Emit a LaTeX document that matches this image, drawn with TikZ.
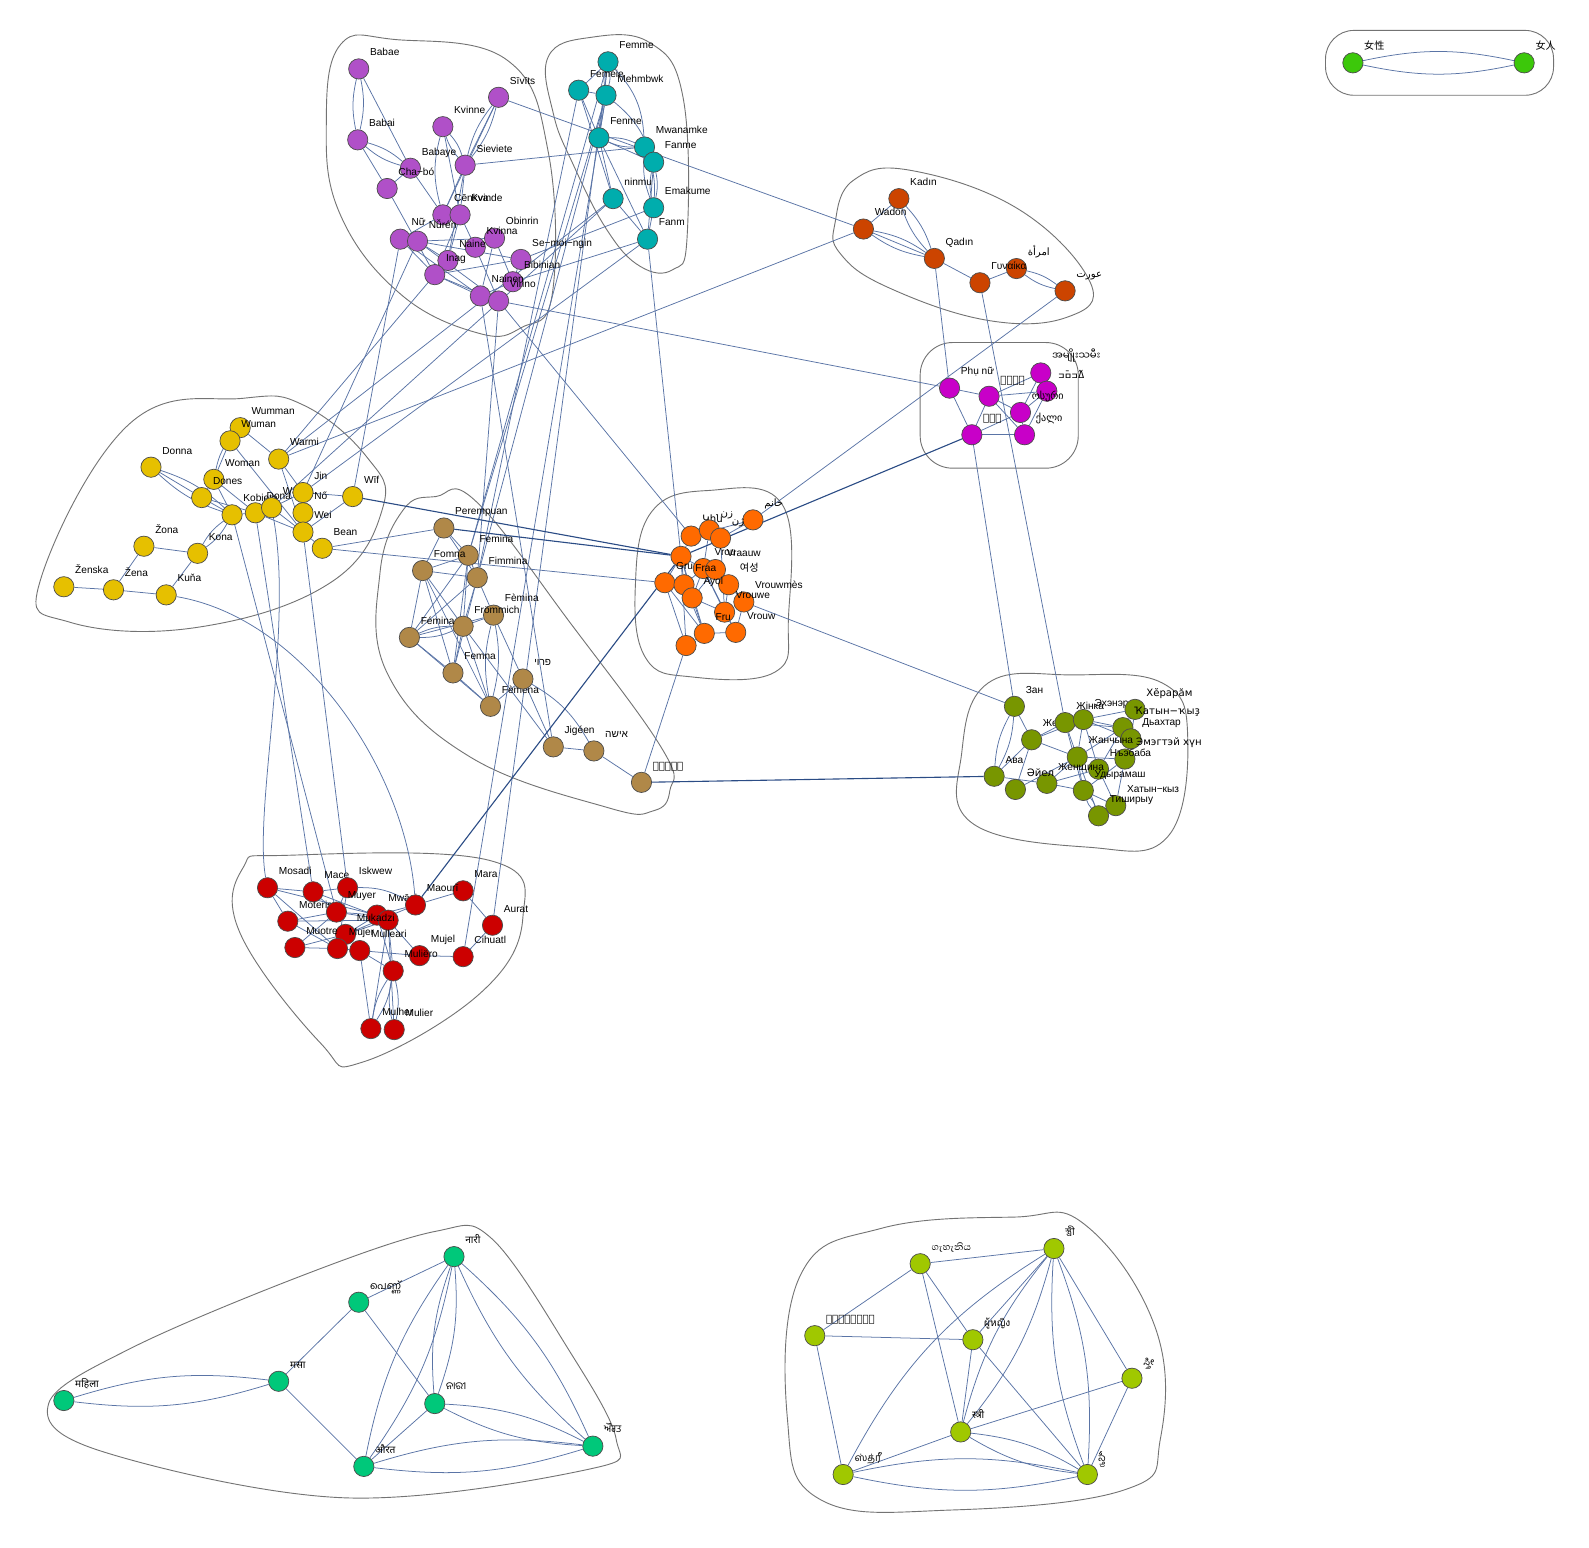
\documentclass[tikz,border=0pt]{standalone}
\usepackage{fontspec}
\setmainfont{Liberation Sans}
\newfontfamily\cjkfont{Noto Sans CJK SC}
\newfontfamily\krfont{Noto Sans CJK KR}
\newfontfamily\arabicfont[Script=Arabic]{DejaVu Sans}
\newfontfamily\hebfont[Script=Hebrew]{Liberation Sans}
\newfontfamily\djfont{DejaVu Sans}
\newfontfamily\dvfont[Script=Devanagari]{Noto Sans}
\newfontfamily\mlfont[Script=Malayalam]{Hind Kochi}
\newfontfamily\orfont[Script=Oriya]{Noto Sans Oriya UI}
\newfontfamily\pafont[Script=Gurmukhi]{Hind Jalandhar}
\newfontfamily\bnfont[Script=Bengali]{Hind Siliguri}
\newfontfamily\sifont[Script=Sinhala,Scale=1.2]{Abhaya Libre}
\newfontfamily\thfont[Script=Thai]{Loma}
\newfontfamily\knfont[Script=Kannada]{Hind Mysuru}
\newfontfamily\tafont[Script=Tamil]{Hind Madurai}
\newfontfamily\tefont[Script=Telugu]{Hind Guntur}
\newfontfamily\myfont[Script=Myanmar]{Noto Sans Myanmar UI}
\TeXXeTstate=1
\usepackage{tikz}
\usetikzlibrary{positioning}
\pgfdeclarelayer{bg}
\pgfsetlayers{bg,main}

\definecolor{linkC}{HTML}{5A74A6}
\definecolor{darklinkC}{HTML}{2B4C85}
\definecolor{puC}{HTML}{B050C8}
\definecolor{teC}{HTML}{00ADAD}
\definecolor{kaC}{HTML}{CC4400}
\definecolor{maC}{HTML}{C800C8}
\definecolor{yeC}{HTML}{E6C000}
\definecolor{taC}{HTML}{B08848}
\definecolor{orC}{HTML}{FF6A00}
\definecolor{olC}{HTML}{789600}
\definecolor{reC}{HTML}{CC0000}
\definecolor{grC}{HTML}{00C87A}
\definecolor{liC}{HTML}{A0C800}
\definecolor{cjC}{HTML}{3CC80A}

\begin{document}
\begin{tikzpicture}[x=1pt, y=-1pt,
    wn/.style={circle, draw=black!70, line width=0.7pt, fill=#1, minimum size=20pt, inner sep=0pt},
    lbl/.style={font=\fontsize{10}{11}\selectfont, anchor=base west, inner sep=0pt},
    nl/.style={append after command={(\tikzlastnode.center) ++(11pt,13pt) node[lbl] {#1}}},
    link/.style={draw=linkC, line width=0.75pt},
    dlink/.style={draw=darklinkC, line width=1.1pt},
    hull/.style={draw=black!55, line width=0.9pt},
    pu/.style={wn=puC}, te/.style={wn=teC}, ka/.style={wn=kaC}, ma/.style={wn=maC},
    ye/.style={wn=yeC}, ta/.style={wn=taC}, or/.style={wn=orC}, ol/.style={wn=olC},
    re/.style={wn=reC}, gr/.style={wn=grC}, li/.style={wn=liC}, cj/.style={wn=cjC}
]
\useasboundingbox (0,0) rectangle (1568,1527);

% Purple group
\node[pu, nl=Babae] (pBabae) at (354,68) {};
\node[pu, nl=Babai] (pBabai) at (353,138) {};
\node[pu, nl=Sīvīts] (pSivits) at (492,96) {};
\node[pu, nl=Kvinne] (pKvinne) at (437,125) {};
\node[pu, nl=Babaye] (pBabaye) at (405,166) {};
\node[pu, nl=Sieviete] (pSieviete) at (459,163) {};
\node[pu, nl=Cha−bó] (pChabo) at (382,186) {};
\node[pu, nl=Cēnkva] (pCenkva) at (437,212) {};
\node[pu, nl=Kvinde] (pKvinde) at (454,212) {};
\node[pu, nl=Nữ] (pNu) at (395,236) {};
\node[pu, nl=Nǚrén] (pNuren) at (412,238) {};
\node[pu, nl=Obinrin] (pObinrin) at (488,235) {};
\node[pu, nl=Kvinna] (pKvinna) at (469,244) {};
\node[pu, nl=Se−moi−ngin] (pSemoi) at (514,256) {};
\node[pu, nl=Naine] (pNaine) at (442,257) {};
\node[pu, nl=Inag] (pInag) at (429,271) {};
\node[pu, nl=Bibinian] (pBibin) at (506,278) {};
\node[pu, nl=Nainen] (pNainen) at (474,292) {};
\node[pu, nl=Virino] (pVirino) at (492,297) {};

% Teal group
\node[te, nl=Femme] (tFemme) at (600,61) {};
\node[te, nl=Femeie] (tFemeie) at (571,89) {};
\node[te, nl=Mehmbwk] (tMehm) at (598,94) {};
\node[te, nl=Fenme] (tFenme) at (591,136) {};
\node[te, nl=Mwanamke] (tMwan) at (636,145) {};
\node[te, nl=Fanme] (tFanme) at (645,160) {};
\node[te, nl=ninmu] (tNinmu) at (605,196) {};
\node[te, nl=Emakume] (tEmak) at (645,205) {};
\node[te, nl=Fanm] (tFanm) at (639,236) {};

% Kadin group
\node[ka, nl=Kadın] (kKadin) at (887,196) {};
\node[ka, nl=Wadon] (kWadon) at (852,226) {};
\node[ka, nl=Qadın] (kQadin) at (922,255) {};
\node[ka, nl={\arabicfont\beginR امرأة\endR}] (kImr) at (1003,265) {};
\node[ka, nl=Γυναίκα] (kGyn) at (967,279) {};
\node[ka, nl={\arabicfont\beginR عورت\endR}] (kAurat) at (1051,287) {};

% Magenta group
\node[ma, nl=Phụ nữ] (mPhu) at (937,383) {};
\node[ma, nl={\myfont အမျိုးသမီး}] (mMyan) at (1027,368) {};
\node[ma, nl={\djfont\beginR ߡߏ߬ߛߏ߫\endR}] (mNko) at (1033,386) {};
\node[ma, nl={\djfont ᎠᏂᎨᏯ}] (mCher) at (976,391) {};
\node[ma, nl={\djfont ოსური}] (mOsuri) at (1007,407) {};
\node[ma, nl={\djfont ሴቶች}] (mSetoch) at (959,429) {};
\node[ma, nl={\djfont ქალი}] (mKali) at (1011,429) {};

% Yellow group
\node[ye, nl=Wumman] (yWumman) at (237,422) {};
\node[ye, nl=Wuman] (yWuman) at (227,435) {};
\node[ye, nl=Donna] (yDonna) at (149,461) {};
\node[ye, nl=Warmi] (yWarmi) at (275,453) {};
\node[ye, nl=Woman] (yWoman) at (211,473) {};
\node[ye, nl=Dones] (yDones) at (199,491) {};
\node[ye, nl=Kobieta] (yKobieta) at (229,508) {};
\node[ye, nl=Dona] (yDona) at (252,506) {};
\node[ye, nl=Wanita] (yWanita) at (268,501) {};
\node[ye, nl=Jin] (yJin) at (299,486) {};
\node[ye, nl=Nő] (yNo) at (299,506) {};
\node[ye, nl=Wei] (yWei) at (299,525) {};
\node[ye, nl=Bean] (yBean) at (318,541) {};
\node[ye, nl=Wīf] (yWif) at (348,490) {};
\node[ye, nl=Žona] (yZona) at (142,539) {};
\node[ye, nl=Kona] (yKona) at (195,546) {};
\node[ye, nl=Ženska] (yZenska) at (63,579) {};
\node[ye, nl=Žena] (yZena) at (112,582) {};
\node[ye, nl=Kuňa] (yKuna) at (164,587) {};

% Tan group
\node[ta, nl=Perempuan] (nPeremp) at (438,521) {};
\node[ta, nl=Femina] (nFemina) at (462,548) {};
\node[ta, nl=Fomna] (nFomna) at (417,563) {};
\node[ta, nl=Fimmina] (nFimmina) at (471,570) {};
\node[ta, nl=Fèmina] (nFemina2) at (487,607) {};
\node[ta, nl=Frömmich] (nFromm) at (457,618) {};
\node[ta, nl=Fémina] (nFemina3) at (404,629) {};
\node[ta, nl=Femna] (nFemna) at (447,664) {};
\node[ta, nl=Fèmena] (nFemena) at (484,697) {};
\node[ta, nl={\hebfont\beginR פרוי\endR}] (nFroy) at (516,670) {};
\node[ta, nl=Jigéen] (nJigeen) at (546,737) {};
\node[ta, nl={\hebfont\beginR אישה\endR}] (nIsha) at (586,741) {};
\node[ta, nl={\djfont\beginR ܐܢܬܬܐ\endR}] (nAtta) at (633,772) {};

% Orange group
\node[or, nl={\arabicfont\beginR خانم\endR}] (oKhanum) at (743,513) {};
\node[or, nl={\djfont Կին}] (oKin) at (682,529) {};
\node[or, nl={\arabicfont\beginR زن\endR}] (oZan) at (700,523) {};
\node[or, nl={\arabicfont\beginR ژن\endR}] (oZhan) at (711,531) {};
\node[or] (oX1) at (672,549) {};
\node[or, nl=Grua] (oGrua) at (656,575) {};
\node[or, nl=Vrou] (oVrou) at (694,561) {};
\node[or, nl=Vraauw] (oVraauw) at (706,562) {};
\node[or, nl=Fraa] (oFraa) at (675,577) {};
\node[or, nl={\krfont 여성}] (oYeo) at (719,577) {};
\node[or, nl=Ayol] (oAyol) at (683,590) {};
\node[or, nl=Vrouwmès] (oVrouwmes) at (734,594) {};
\node[or, nl=Vrouwe] (oVrouwe) at (715,604) {};
\node[or, nl=Vrouw] (oVrouw) at (726,624) {};
\node[or, nl=Fru] (oFru) at (695,625) {};
\node[or] (oX2) at (677,637) {};

% Olive group
\node[ol, nl=Зан] (vZan) at (1001,697) {};
\node[ol, nl=Жена] (vZhena) at (1018,730) {};
\node[ol, nl=Жінка] (vZhinka) at (1051,713) {};
\node[ol, nl=Эхэнэр] (vEhener) at (1069,710) {};
\node[ol, nl={\djfont Хӗрарӑм}] (vHerarem) at (1120,700) {};
\node[ol, nl={\djfont Ҡатын−ҡыҙ}] (vKatyn) at (1108,718) {};
\node[ol, nl=Дьахтар] (vDyah) at (1116,729) {};
\node[ol, nl=Жанчына] (vZhanch) at (1063,747) {};
\node[ol, nl={\djfont Эмэгтэй хүн}] (vEmeg) at (1110,749) {};
\node[ol, nl=Нъэбаба] (vNebaba) at (1084,759) {};
\node[ol, nl=Ава] (vAva) at (981,766) {};
\node[ol, nl=Женщина] (vZhensh) at (1033,773) {};
\node[ol, nl={\djfont Әйел}] (vAiel) at (1002,779) {};
\node[ol, nl=Удырамаш] (vUdyr) at (1069,780) {};
\node[ol, nl=Хатын−кыз] (vHatyn) at (1101,795) {};
\node[ol, nl=Тиширыу] (vTish) at (1084,805) {};

% Red group
\node[re, nl=Mosadi] (rMosadi) at (264,876) {};
\node[re, nl=Mace] (rMace) at (309,880) {};
\node[re, nl=Iskwew] (rIskwew) at (343,876) {};
\node[re, nl=Mara] (rMara) at (457,879) {};
\node[re, nl=Moteris] (rMoteris) at (284,909) {};
\node[re, nl=Muyer] (rMuyer) at (332,900) {};
\node[re, nl=Mwāsi] (rMwasi) at (372,903) {};
\node[re] (rMx) at (383,908) {};
\node[re, nl=Maourī] (rMaouri) at (410,893) {};
\node[re, nl=Mukadzi] (rMukadzi) at (341,922) {};
\node[re, nl=Muotre] (rMuotre) at (291,935) {};
\node[re, nl=Mujer] (rMujer) at (333,936) {};
\node[re, nl=Mulleari] (rMullea) at (355,938) {};
\node[re, nl=Mujel] (rMujel) at (414,943) {};
\node[re, nl=Muliëro] (rMuliero) at (388,958) {};
\node[re, nl=Cihuatl] (rCihuatl) at (457,944) {};
\node[re, nl=Aurat] (rAurat) at (486,913) {};
\node[re, nl=Mulher] (rMulher) at (366,1015) {};
\node[re, nl=Mulier] (rMulier) at (389,1016) {};

% Green group
\node[gr, nl={\dvfont नारी}] (gNari) at (448,1240) {};
\node[gr, nl={\mlfont പെണ്ണ്}] (gPenn) at (354,1285) {};
\node[gr, nl={\dvfont मसा}] (gMasa) at (275,1363) {};
\node[gr, nl={\dvfont महिला}] (gMahila) at (63,1382) {};
\node[gr, nl={\orfont ନାରୀ}] (gOdia) at (429,1385) {};
\node[gr, nl={\dvfont औरत}] (gAurat) at (359,1447) {};
\node[gr, nl={\pafont ਔਰਤ}] (gPunj) at (585,1427) {};

% Lime group
\node[li, nl={\sifont ගැහැනිය}] (lGae) at (908,1247) {};
\node[li, nl={\bnfont স্ত্রী}] (lBn) at (1040,1232) {};
\node[li, nl={\djfont བུད་མེད།}] (lBo) at (804,1318) {};
\node[li, nl={\thfont ผู้หญิง}] (lTh) at (960,1322) {};
\node[li, nl={\knfont ಸ್ತ್ರೀ}] (lKn) at (1117,1360) {};
\node[li, nl={\dvfont स्त्री}] (lDv) at (948,1413) {};
\node[li, nl={\tafont ஸ்த்ரீ}] (lTa) at (832,1455) {};
\node[li, nl={\tefont స్త్రీ}] (lTe) at (1073,1455) {};

% CJK pair
\node[cj, nl={\cjkfont 女性}] (cNvxing) at (1335,62) {};
\node[cj, nl={\cjkfont 女人}] (cNvren) at (1504,62) {};

\begin{pgfonlayer}{bg}
% hulls
\draw[hull] plot[smooth cycle, tension=0.7] coordinates {(336,44) (390,39) (500,59) (541,150) (545,290) (515,323) (473,329) (395,290) (335,210) (322,120)};
\draw[hull] plot[smooth cycle, tension=0.7] coordinates {(541,56) (582,37) (641,42) (674,96) (678,234) (664,266) (632,263) (599,227) (565,161) (546,112)};
\draw[hull] plot[smooth cycle, tension=0.7] coordinates {(824,220) (842,178) (898,168) (1006,207) (1076,279) (1053,313) (974,316) (875,283) (829,250)};
\draw[hull, rounded corners=32pt] (908,338) rectangle (1064,462);
\draw[hull] plot[smooth cycle, tension=0.7] coordinates {(240,393) (128,418) (40,572) (69,614) (195,619) (326,575) (378,500) (362,451) (300,400)};
\draw[hull] plot[smooth cycle, tension=0.7] coordinates {(398,503) (430,490) (470,495) (563,615) (654,740) (661,780) (645,800) (600,797) (464,747) (382,664) (375,565)};
\draw[hull] plot[smooth cycle, tension=0.7] coordinates {(627,577) (643,505) (699,484) (772,498) (778,610) (765,663) (683,668) (637,649)};
\draw[hull] plot[smooth cycle, tension=0.7] coordinates {(975,674) (1058,666) (1147,674) (1172,727) (1152,826) (1074,836) (959,812) (949,743)};
\draw[hull] plot[smooth cycle, tension=0.7] coordinates {(240,856) (283,844) (483,849) (516,905) (474,980) (358,1048) (316,1029) (237,921)};
\draw[hull] plot[smooth cycle, tension=0.6] coordinates {(48,1385) (130,1330) (300,1258) (430,1215) (485,1222) (560,1330) (608,1420) (580,1450) (340,1478) (100,1432)};
\draw[hull] plot[smooth cycle, tension=0.7] coordinates {(790,1258) (870,1212) (1000,1201) (1070,1208) (1140,1310) (1145,1420) (1110,1470) (940,1490) (810,1480) (777,1400)};
\draw[hull, rounded corners=28pt] (1308,30) rectangle (1533,94);

% edges inside groups
\foreach \a/\b in {pBabae/pBabaye, pBabai/pChabo, pChabo/pBabaye, pBabaye/pCenkva, pChabo/pInag,
    pKvinne/pKvinde, pSivits/pSieviete, pSivits/pCenkva, pSieviete/pKvinde, pSieviete/pCenkva,
    pSieviete/pNaine, pCenkva/pKvinde, pCenkva/pNu, pKvinde/pNaine, pKvinde/pKvinna, pKvinde/pInag,
    pNu/pNuren, pNu/pNainen, pNu/pInag, pNuren/pObinrin, pNuren/pNaine, pNuren/pVirino, pNuren/pSemoi,
    pObinrin/pBibin, pObinrin/pNainen, pObinrin/pKvinna, pKvinna/pVirino, pNaine/pInag, pInag/pSemoi,
    pInag/pNainen, pInag/pVirino, pSemoi/pBibin, pBibin/pNainen, pNainen/pVirino,
    tFemme/tFemeie, tFemme/tFenme, tFemeie/tFenme, tFemeie/tNinmu, tMehm/tFenme, tFenme/tFanme,
    tFenme/tNinmu, tFenme/tFanm, tFanme/tFanm, tEmak/tFanm, tNinmu/tFanm, tFemeie/tMehm,
    kKadin/kWadon, kQadin/kGyn, kGyn/kImr, kWadon/kQadin,
    mPhu/mCher, mPhu/mSetoch, mCher/mMyan, mCher/mNko, mCher/mOsuri, mCher/mSetoch, mCher/mKali,
    mMyan/mNko, mMyan/mOsuri, mNko/mOsuri, mNko/mKali, mOsuri/mSetoch, mOsuri/mKali, mSetoch/mKali,
    yWumman/yWuman, yWuman/yWoman, yWumman/yWarmi, yWuman/yWei, yDonna/yDones, yWoman/yDones,
    yWoman/yKobieta, yWoman/yDona, yDones/yDona, yDones/yKobieta, yWarmi/yWei, yWarmi/yJin,
    yKobieta/yDona, yDona/yWanita, yDona/yWei, yWanita/yJin, yWanita/yWei, yJin/yNo, yJin/yWei,
    yNo/yWei, yWei/yBean, yJin/yWif, yWei/yWif, yKona/yZona, yKona/yKuna, yZona/yZena,
    yZena/yZenska, yZena/yKuna,
    nPeremp/nFemina, nPeremp/nFomna, nPeremp/nFimmina, nFemina/nFomna, nFemina/nFimmina,
    nFemina/nFromm, nFemina/nFemina3, nFemina/nFemna, nFomna/nFimmina, nFomna/nFemina3,
    nFomna/nFemna, nFomna/nFemena, nFomna/nFromm, nFimmina/nFromm, nFimmina/nFemina2,
    nFimmina/nFemina3, nFimmina/nFemna, nFromm/nFemina2, nFromm/nFemna, nFromm/nFemena,
    nFemina2/nFemina3, nFemina2/nFroy, nFemina3/nFemna, nFemina3/nFemena, nFemna/nFemena,
    nFroy/nFemena, nFroy/nJigeen, nFromm/nJigeen, nJigeen/nIsha, nIsha/nAtta,
    oKhanum/oZhan, oKhanum/oKin, oKin/oZan, oKin/oX1, oKin/oZhan, oZan/oZhan, oZan/oVrou,
    oX1/oGrua, oX1/oVrou, oX1/oFraa, oX1/oAyol, oX1/oFru, oX1/oX2, oGrua/oFraa, oGrua/oX2,
    oVrou/oVraauw, oVrou/oAyol, oVrou/oFraa, oVrou/oVrouwe, oVraauw/oYeo, oVraauw/oAyol,
    oYeo/oVrouwmes, oYeo/oVrouwe, oAyol/oVrouwe, oAyol/oFru, oFraa/oAyol, oFraa/oFru,
    oVrouwe/oVrouw, oVrouwmes/oVrouw, oVrouw/oFru, oFru/oX2, oVrou/oVrouw, oZhan/oVrouwe, oGrua/oFru,
    vZan/vZhena, vZhena/vAva, vZhena/vAiel, vZhena/vZhinka, vZhena/vEhener, vZhena/vZhanch,
    vZhinka/vEhener, vZhinka/vZhanch, vZhinka/vUdyr, vZhinka/vKatyn, vEhener/vHerarem,
    vEhener/vKatyn, vEhener/vDyah, vEhener/vZhanch, vEhener/vNebaba, vZhanch/vKatyn,
    vZhanch/vEmeg, vZhanch/vZhensh, vZhanch/vTish, vZhanch/vUdyr, vZhanch/vAiel, vAva/vZhensh,
    vZhensh/vUdyr, vZhensh/vNebaba, vUdyr/vHatyn, vNebaba/vHatyn, vHatyn/vTish, vEmeg/vHatyn,
    vHerarem/vDyah, vHerarem/vKatyn, vDyah/vEmeg, vKatyn/vNebaba, vEmeg/vUdyr,
    rMosadi/rMace, rMosadi/rMoteris, rMosadi/rMwasi, rMosadi/rMujer, rMace/rIskwew, rMace/rMuyer,
    rMace/rMx, rIskwew/rMuyer, rIskwew/rMujer, rMaouri/rMara, rMaouri/rMwasi, rMaouri/rMukadzi,
    rMara/rAurat, rAurat/rCihuatl, rCihuatl/rMujel, rMujel/rMullea, rMujel/rMx, rMoteris/rMuyer,
    rMoteris/rMujer, rMoteris/rMx, rMuotre/rMukadzi, rMuotre/rMujer, rMuotre/rMuyer, rMujer/rMullea,
    rMuyer/rMwasi, rMuyer/rMx, rMukadzi/rMwasi, rMukadzi/rMx, rMx/rMuliero, rMx/rMulher, rMx/rMulier,
    rMullea/rMulher, rMullea/rMuliero, rMwasi/rMuliero,
    gNari/gPenn, gPenn/gMasa, gPenn/gOdia, gMasa/gAurat, gOdia/gAurat,
    lGae/lBn, lGae/lBo, lGae/lTh, lGae/lDv, lBn/lKn, lBo/lTh, lBo/lTa, lTh/lDv, lTh/lTe,
    lKn/lDv, lKn/lTe, lDv/lTa, lBn/lTh}
  \draw[link] (\a) -- (\b);

% double edges
\foreach \a/\b in {pBabae/pBabai, pBabai/pBabaye, pKvinne/pSieviete, pSivits/pSieviete,
    tFemme/tMehm, tFenme/tMwan, tMwan/tEmak, tFanme/tEmak,
    kKadin/kQadin, kWadon/kQadin, kImr/kAurat,
    yDonna/yKobieta, yKobieta/yKona, nFromm/nFemina3, nFemina2/nFemena,
    vZan/vAva, vUdyr/vTish, rMuliero/rMulher, rMuliero/rMulier,
    gNari/gOdia, gNari/gAurat, gNari/gPunj, gMasa/gMahila, gOdia/gPunj, gAurat/gPunj,
    lBn/lDv, lBn/lTe, lDv/lTe, lTa/lTe, cNvxing/cNvren}
  {\draw[link] (\a) to[bend left=12] (\b);
   \draw[link] (\a) to[bend right=12] (\b);}

\draw[link] (pKvinne) to[bend right=15] (pCenkva);
\draw[link] (tFemme) to[bend left=20] (tMwan);
\draw[link] (tMehm) to[bend left=15] (tFanme);
\draw[link] (yWumman) to[bend right=15] (yWoman);
\draw[link] (nFroy) to[bend left=15] (nIsha);
\draw[link] (rIskwew) to[bend left=15] (rMaouri);
\draw[link] (lBn) to[bend right=15] (lTa);

% edges between groups
\foreach \a/\b in {pSieviete/tMwan, pSivits/kWadon, pVirino/mPhu, tFanm/oX1, tFemme/nFemina,
    tMehm/nFemina, tFemeie/nFimmina, tMehm/nFimmina, tFemme/rAurat, tMehm/rCihuatl,
    tNinmu/yWanita, tFanm/yJin, kQadin/mPhu, kGyn/vZhinka, kAurat/oKhanum, kWadon/yWarmi,
    mSetoch/vZan, oVrouwmes/vZan, nAtta/oX2, yDona/rMace, yKobieta/rMuyer, yWei/rIskwew,
    nJigeen/pNainen, oKin/pVirino, pInag/yWarmi, pNuren/yJin, pVirino/nFimmina, yWif/pNu,
    tNinmu/yWarmi, pSemoi/tEmak, pBibin/tFanm, yBean/nPeremp, yBean/oGrua}
  \draw[link] (\a) -- (\b);
\foreach \a/\b in {mSetoch/oX1, oX1/rMaouri, nAtta/vAva, nPeremp/oX1, yWif/oX1}
  \draw[dlink] (\a) -- (\b);
\draw[link] (yKuna) .. controls (300,610) and (400,760) .. (rMaouri);
\draw[link] (yWanita) .. controls (290,620) and (250,800) .. (rMosadi);
\end{pgfonlayer}
\end{tikzpicture}
\end{document}
